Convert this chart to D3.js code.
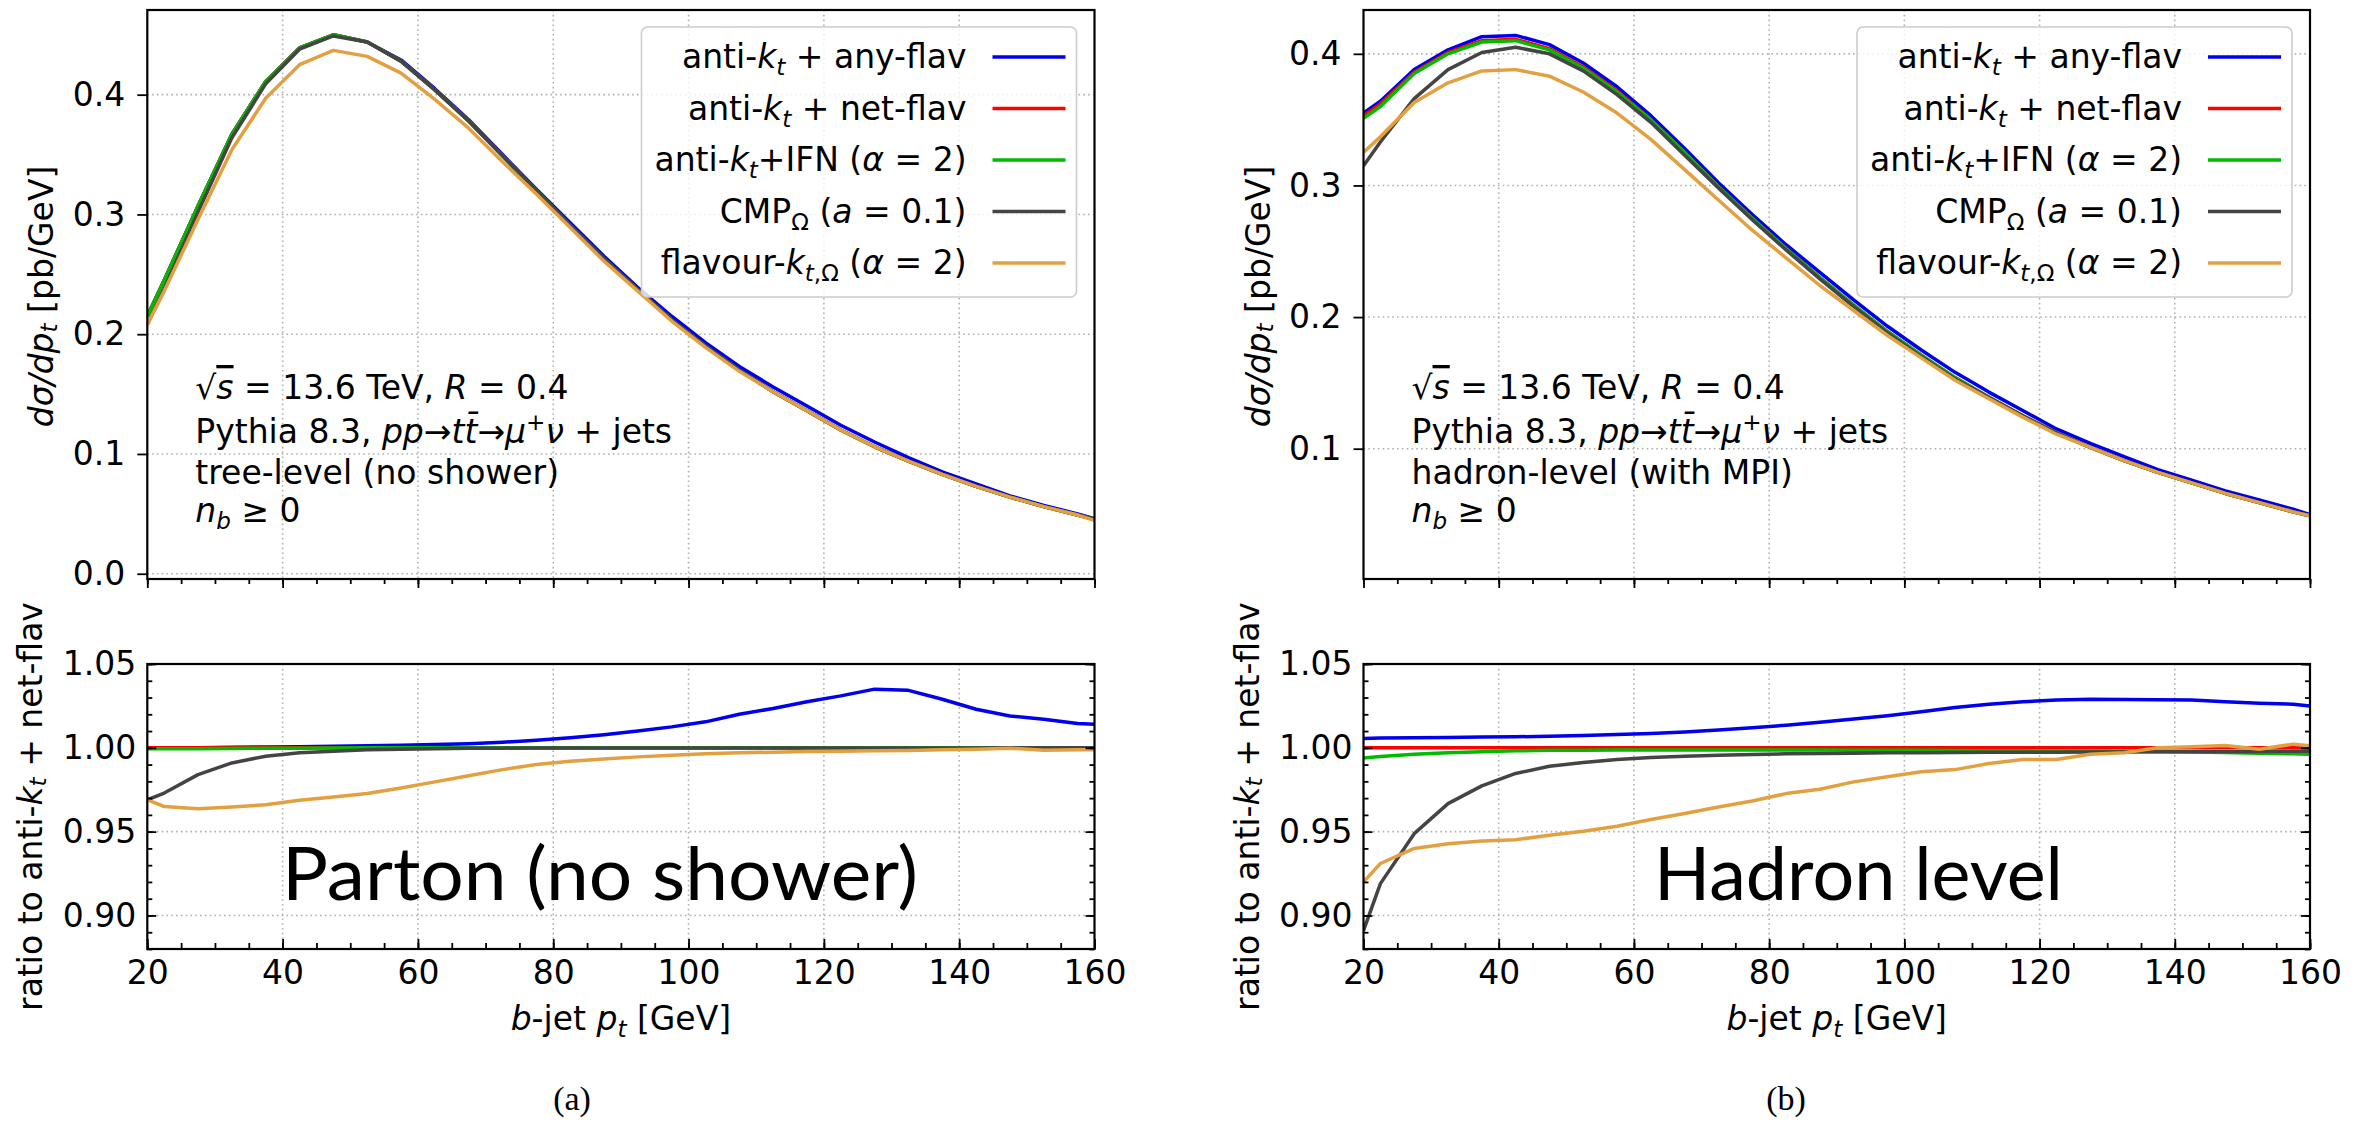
<!DOCTYPE html>
<html lang="en">
<head>
<meta charset="UTF-8">
<title>b-jet pt spectra</title>
<script src="https://d3js.org/d3.v7.min.js"></script>
<style>
  body { margin: 0; background: #fff; }
  svg { display: block; }
</style>
</head>
<body>
<svg width="2369" height="1122"></svg>
<script>
// pt nodes (GeV): axis edges plus 5 GeV bin centres
const ptNodes = [20, 22.5, 27.5, 32.5, 37.5, 42.5, 47.5, 52.5, 57.5, 62.5, 67.5, 72.5, 77.5, 82.5, 87.5,
                 92.5, 97.5, 102.5, 107.5, 112.5, 117.5, 122.5, 127.5, 132.5, 137.5, 142.5, 147.5, 152.5, 157.5, 160];

// ---- (a) parton level, dsigma/dpt [pb/GeV]
const partonAnyFlav = [0.215, 0.245, 0.307, 0.367, 0.411, 0.439, 0.450, 0.444, 0.429, 0.405, 0.379, 0.350, 0.321, 0.293,
                       0.265, 0.239, 0.215, 0.193, 0.173, 0.156, 0.140, 0.124, 0.110, 0.097, 0.085, 0.075, 0.065, 0.057, 0.050, 0.046];
const partonNetFlav = [0.215, 0.245, 0.307, 0.367, 0.411, 0.439, 0.450, 0.444, 0.428, 0.404, 0.378, 0.349, 0.320, 0.291,
                       0.263, 0.237, 0.212, 0.190, 0.170, 0.152, 0.136, 0.120, 0.106, 0.094, 0.083, 0.073, 0.064, 0.056, 0.049, 0.0455];
const partonIFN     = [0.215, 0.245, 0.307, 0.367, 0.411, 0.439, 0.450, 0.444, 0.428, 0.404, 0.378, 0.349, 0.320, 0.291,
                       0.263, 0.237, 0.212, 0.190, 0.170, 0.152, 0.136, 0.120, 0.106, 0.094, 0.083, 0.073, 0.064, 0.056, 0.049, 0.0455];
const partonCMP     = [0.208, 0.238, 0.302, 0.364, 0.409, 0.438, 0.449, 0.444, 0.428, 0.404, 0.378, 0.349, 0.320, 0.291,
                       0.263, 0.237, 0.212, 0.190, 0.170, 0.152, 0.136, 0.120, 0.106, 0.094, 0.083, 0.073, 0.064, 0.056, 0.049, 0.0455];
const partonFlavKt  = [0.208, 0.236, 0.296, 0.354, 0.397, 0.425, 0.437, 0.432, 0.418, 0.396, 0.372, 0.344, 0.317, 0.289,
                       0.261, 0.236, 0.211, 0.189, 0.169, 0.152, 0.136, 0.120, 0.106, 0.094, 0.083, 0.073, 0.064, 0.056, 0.049, 0.0445];

// ratios to anti-kt + net-flav
const partonRatioAny = [1.000, 1.000, 1.000, 1.0003, 1.0005, 1.0007, 1.001, 1.0012, 1.0015, 1.002, 1.0025, 1.0033, 1.0045, 1.006,
                        1.0078, 1.010, 1.0125, 1.0155, 1.020, 1.0235, 1.0275, 1.031, 1.035, 1.0343, 1.029, 1.023, 1.019, 1.017, 1.0145, 1.014];
const partonRatioNet = [1, 1, 1, 1, 1, 1, 1, 1, 1, 1, 1, 1, 1, 1, 1, 1, 1, 1, 1, 1, 1, 1, 1, 1, 1, 1, 1, 1, 1, 1];
const partonRatioIFN = [0.9995, 0.9995, 0.9995, 0.9996, 0.9997, 0.9998, 0.9999, 1, 1, 1, 1, 1, 1, 1, 1, 1, 1, 1, 1, 1,
                        1, 1, 1, 1, 1, 1, 1, 1, 1, 1];
const partonRatioCMP = [0.969, 0.973, 0.984, 0.991, 0.995, 0.997, 0.998, 0.9988, 0.9992, 0.9995, 0.9997, 0.9998, 0.9999, 0.9999,
                        0.9999, 0.9999, 0.9999, 0.9999, 0.9999, 0.9999, 0.9999, 0.9999, 0.9999, 0.9999, 0.9999, 0.9999, 1, 1, 1, 1];
const partonRatioFlavKt = [0.969, 0.965, 0.9637, 0.9647, 0.966, 0.9687, 0.9707, 0.9727, 0.976, 0.9797, 0.9833, 0.987, 0.990, 0.992,
                           0.9934, 0.9946, 0.9956, 0.9964, 0.997, 0.9974, 0.9978, 0.998, 0.9982, 0.9984, 0.9988, 0.9992, 0.9998, 0.9986, 0.9988, 0.9988];

// ---- (b) hadron level, dsigma/dpt [pb/GeV]
const hadronAnyFlav = [0.355, 0.364, 0.388, 0.403, 0.413, 0.414, 0.407, 0.393, 0.375, 0.353, 0.328, 0.302, 0.278, 0.255,
                       0.234, 0.213, 0.193, 0.175, 0.158, 0.143, 0.129, 0.115, 0.104, 0.094, 0.084, 0.076, 0.068, 0.061, 0.054, 0.050];
const hadronNetFlav = [0.353, 0.362, 0.386, 0.401, 0.410, 0.411, 0.404, 0.390, 0.372, 0.350, 0.325, 0.299, 0.275, 0.252,
                       0.230, 0.209, 0.189, 0.171, 0.154, 0.139, 0.125, 0.112, 0.101, 0.091, 0.082, 0.074, 0.066, 0.059, 0.052, 0.049];
const hadronIFN     = [0.351, 0.360, 0.385, 0.400, 0.409, 0.410, 0.403, 0.389, 0.371, 0.350, 0.325, 0.299, 0.275, 0.252,
                       0.230, 0.209, 0.189, 0.171, 0.154, 0.139, 0.125, 0.112, 0.101, 0.091, 0.082, 0.074, 0.066, 0.059, 0.052, 0.049];
const hadronCMP     = [0.315, 0.333, 0.366, 0.388, 0.401, 0.405, 0.400, 0.387, 0.369, 0.348, 0.323, 0.298, 0.274, 0.251,
                       0.229, 0.208, 0.188, 0.170, 0.153, 0.139, 0.125, 0.112, 0.101, 0.091, 0.082, 0.074, 0.066, 0.059, 0.052, 0.049];
const hadronFlavKt  = [0.325, 0.337, 0.363, 0.378, 0.387, 0.388, 0.383, 0.371, 0.355, 0.335, 0.312, 0.289, 0.266, 0.245,
                       0.224, 0.205, 0.186, 0.169, 0.152, 0.138, 0.124, 0.111, 0.101, 0.091, 0.082, 0.074, 0.066, 0.059, 0.052, 0.049];

const hadronRatioAny = [1.0056, 1.0058, 1.006, 1.0062, 1.0064, 1.0066, 1.0069, 1.0073, 1.0079, 1.0086, 1.0095, 1.0106, 1.012, 1.0135,
                        1.0152, 1.0172, 1.0192, 1.0215, 1.024, 1.026, 1.0275, 1.0285, 1.0289, 1.0288, 1.0287, 1.0285, 1.0275, 1.0266, 1.026, 1.025];
const hadronRatioNet = [1, 1, 1, 1, 1, 1, 1, 1, 1, 1, 1, 1, 1, 1, 1, 1, 1, 1, 1, 1, 1, 1, 1, 1, 1, 1, 1, 1, 1, 1];
const hadronRatioIFN = [0.994, 0.9948, 0.9962, 0.997, 0.9977, 0.9982, 0.9985, 0.9986, 0.9987, 0.9987, 0.9987, 0.9987, 0.9987, 0.9987,
                        0.9987, 0.9986, 0.9986, 0.9985, 0.9984, 0.9983, 0.9982, 0.9981, 0.998, 0.9979, 0.9977, 0.9975, 0.9972, 0.9968, 0.9964, 0.9962];
const hadronRatioCMP = [0.891, 0.919, 0.9488, 0.9667, 0.9773, 0.9847, 0.989, 0.9912, 0.993, 0.9942, 0.995, 0.9956, 0.996, 0.9964,
                        0.9966, 0.9968, 0.997, 0.9971, 0.9972, 0.9973, 0.9974, 0.9974, 0.9975, 0.9975, 0.9976, 0.9976, 0.9977, 0.9978, 0.9979, 0.998];
const hadronRatioFlavKt = [0.920, 0.931, 0.940, 0.9428, 0.9444, 0.9452, 0.9478, 0.9502, 0.9532, 0.9572, 0.9608, 0.9647, 0.9683, 0.9727,
                           0.9753, 0.9797, 0.9827, 0.9857, 0.987, 0.9906, 0.993, 0.993, 0.9962, 0.997, 1.000, 1.0006, 1.0014, 0.9992, 1.0022, 1.0012];

const seriesColors = ["#0000ee", "#ff0000", "#00bb00", "#444444", "#e3a040"];
const yTicksA = [0.0, 0.1, 0.2, 0.3, 0.4];
const yTicksB = [0.1, 0.2, 0.3, 0.4];
const ratioTicks = [0.90, 0.95, 1.00, 1.05];
const xTicks = [20, 40, 60, 80, 100, 120, 140, 160];

const F = 33;
const svg = d3.select("svg");

// mathtext-like helper: parts are strings or [text, style]
// style: i italic, b subscript, p superscript, o overline
function rich(sel, parts, size) {
  let cur = 0;
  parts.forEach(p => {
    const [t, s] = typeof p === "string" ? [p, ""] : p;
    const ts = sel.append("tspan").text(t);
    if (s.includes("i")) ts.attr("font-style", "italic");
    if (s.includes("o")) ts.style("text-decoration", "overline");
    let target = 0;
    if (s.includes("b")) { target = 0.22 * size; ts.attr("font-size", size * 0.7); }
    if (s.includes("p")) { target = -0.4 * size; ts.attr("font-size", size * 0.7); }
    if (target !== cur) { ts.attr("dy", target - cur); cur = target; }
  });
  if (cur !== 0) sel.append("tspan").attr("dy", -cur).text("\u200b");
  return sel;
}

const legendLabels = [
  ["anti-", ["k", "i"], ["t", "ib"], " + any-flav"],
  ["anti-", ["k", "i"], ["t", "ib"], " + net-flav"],
  ["anti-", ["k", "i"], ["t", "ib"], "+IFN (", ["\u03b1", "i"], " = 2)"],
  ["CMP", ["\u03a9", "b"], " (", ["a", "i"], " = 0.1)"],
  ["flavour-", ["k", "i"], ["t", "ib"], [",\u03a9", "b"], " (", ["\u03b1", "i"], " = 2)"]
];

function drawPanel(o) {
  const topY0 = 10, topY1 = 579, rY0 = 664, rY1 = 949;
  const x = d3.scaleLinear().domain([20, 160]).range([o.x0, o.x1]);
  const y = d3.scaleLinear().domain(o.yDom).range([topY1, topY0]);
  const yr = d3.scaleLinear().domain([0.88, 1.05]).range([rY1, rY0]);
  const g = svg.append("g").attr("font-family", "DejaVu Sans").attr("font-size", F);

  const clipId = "clip" + o.id;
  const defs = svg.append("defs");
  defs.append("clipPath").attr("id", clipId + "t").append("rect")
    .attr("x", o.x0).attr("y", topY0).attr("width", o.x1 - o.x0).attr("height", topY1 - topY0);
  defs.append("clipPath").attr("id", clipId + "r").append("rect")
    .attr("x", o.x0).attr("y", rY0).attr("width", o.x1 - o.x0).attr("height", rY1 - rY0);

  const gridStyle = s => s.attr("stroke", "#b0b0b0").attr("stroke-width", 1.6).attr("stroke-dasharray", "1.6,3.2");
  const gridX = [40, 60, 80, 100, 120, 140];

  // grids
  [[topY0, topY1, o.yTicks, y], [rY0, rY1, ratioTicks, yr]].forEach(([a, b, ticks, sc]) => {
    g.append("g").selectAll("line").data(gridX).join("line")
      .attr("x1", d => x(d)).attr("x2", d => x(d)).attr("y1", a).attr("y2", b).call(gridStyle);
    g.append("g").selectAll("line").data(ticks).join("line")
      .attr("x1", o.x0).attr("x2", o.x1).attr("y1", d => sc(d)).attr("y2", d => sc(d)).call(gridStyle);
  });

  // curves
  const line = sc => d3.line().x(d => x(d[0])).y(d => sc(d[1]));
  o.top.forEach((vals, i) => {
    g.append("path").datum(ptNodes.map((p, k) => [p, vals[k]]))
      .attr("clip-path", `url(#${clipId}t)`)
      .attr("d", line(y)).attr("fill", "none").attr("stroke", seriesColors[i])
      .attr("stroke-width", 3.5).attr("stroke-linejoin", "round");
  });
  o.ratio.forEach((vals, i) => {
    g.append("path").datum(ptNodes.map((p, k) => [p, vals[k]]))
      .attr("clip-path", `url(#${clipId}r)`)
      .attr("d", line(yr)).attr("fill", "none").attr("stroke", seriesColors[i])
      .attr("stroke-width", 3.5).attr("stroke-linejoin", "round");
  });

  const minorX = d3.range(20, 161, 5);
  const styleAxis = ax => { ax.select(".domain").remove(); ax.selectAll("line").attr("stroke", "#000").attr("stroke-width", 1.8); };

  // top panel axes (ticks outward)
  g.append("g").attr("transform", `translate(0,${topY1})`)
    .call(d3.axisBottom(x).tickValues(minorX).tickSize(5).tickFormat("")).call(styleAxis);
  g.append("g").attr("transform", `translate(0,${topY1})`)
    .call(d3.axisBottom(x).tickValues(xTicks).tickSize(9).tickFormat("")).call(styleAxis);
  const yAx = g.append("g").attr("transform", `translate(${o.x0},0)`)
    .call(d3.axisLeft(y).tickValues(o.yTicks).tickSize(10).tickPadding(12).tickFormat(d3.format(".1f")));
  styleAxis(yAx);
  yAx.selectAll("text").attr("font-size", F).attr("font-family", "DejaVu Sans").attr("fill", "#000");

  // ratio panel axes (ticks inward)
  g.append("g").attr("transform", `translate(0,${rY1})`)
    .call(d3.axisBottom(x).tickValues(minorX).tickSizeInner(-6).tickSizeOuter(0).tickFormat("")).call(styleAxis);
  const xAx = g.append("g").attr("transform", `translate(0,${rY1})`)
    .call(d3.axisBottom(x).tickValues(xTicks).tickSizeInner(-10).tickSizeOuter(0).tickPadding(12).tickFormat(d3.format("d")));
  styleAxis(xAx);
  xAx.selectAll("text").attr("font-size", F).attr("font-family", "DejaVu Sans").attr("fill", "#000");
  const minorR = d3.range(88, 106).map(v => v / 100);
  [[o.x0, d3.axisLeft], [o.x1, d3.axisRight]].forEach(([px, mk]) => {
    g.append("g").attr("transform", `translate(${px},0)`)
      .call(mk(yr).tickValues(minorR).tickSizeInner(-5).tickSizeOuter(0).tickFormat("")).call(styleAxis);
  });
  const rAx = g.append("g").attr("transform", `translate(${o.x0},0)`)
    .call(d3.axisLeft(yr).tickValues(ratioTicks).tickSizeInner(-9).tickSizeOuter(0).tickPadding(11).tickFormat(d3.format(".2f")));
  styleAxis(rAx);
  rAx.selectAll("text").attr("font-size", F).attr("font-family", "DejaVu Sans").attr("fill", "#000");
  g.append("g").attr("transform", `translate(${o.x1},0)`)
    .call(d3.axisRight(yr).tickValues(ratioTicks).tickSizeInner(-9).tickSizeOuter(0).tickFormat("")).call(styleAxis);

  // frames
  [[topY0, topY1], [rY0, rY1]].forEach(([a, b]) => {
    g.append("rect").attr("x", o.x0).attr("y", a).attr("width", o.x1 - o.x0).attr("height", b - a)
      .attr("fill", "none").attr("stroke", "#000").attr("stroke-width", 2.2);
  });

  // legend
  const lx0 = o.x1 - 453, lx1 = o.x1 - 18, ly0 = 27, ly1 = 297;
  g.append("rect").attr("x", lx0).attr("y", ly0).attr("width", lx1 - lx0).attr("height", ly1 - ly0)
    .attr("rx", 6).attr("fill", "#fff").attr("fill-opacity", 0.8).attr("stroke", "#cccccc").attr("stroke-width", 1.6);
  legendLabels.forEach((lab, i) => {
    const cy = 57 + i * 51.5;
    g.append("line").attr("x1", o.x1 - 102).attr("x2", o.x1 - 29).attr("y1", cy).attr("y2", cy)
      .attr("stroke", seriesColors[i]).attr("stroke-width", 3.5);
    rich(g.append("text").attr("x", o.x1 - 128).attr("y", cy + 11).attr("text-anchor", "end"), lab, F);
  });

  // annotation
  const notes = [
    ["\u221a", ["s", "io"], " = 13.6 TeV, ", ["R", "i"], " = 0.4"],
    ["Pythia 8.3, ", ["pp", "i"], "\u2192", ["t\u0074\u0304", "i"], "\u2192", ["\u03bc", "i"], ["+", "p"], ["\u03bd", "i"], " + jets"],
    [o.level],
    [["n", "i"], ["b", "ib"], " \u2265 0"]
  ];
  const bases = [399, 443, 484, 522];
  notes.forEach((n, i) => rich(g.append("text").attr("x", o.x0 + 48).attr("y", bases[i]), n, F));

  // axis labels
  rich(g.append("text").attr("transform", `translate(${o.x0 - 106},${(topY0 + topY1) / 2 + 2}) rotate(-90)`)
    .attr("text-anchor", "middle").attr("dominant-baseline", "central"),
    [["d\u03c3/dp", "i"], ["t", "ib"], " [pb/GeV]"], F);
  rich(g.append("text").attr("transform", `translate(${o.x0 - 117},${(rY0 + rY1) / 2}) rotate(-90)`)
    .attr("text-anchor", "middle").attr("dominant-baseline", "central"),
    ["ratio to anti-", ["k", "i"], ["t", "ib"], " + net-flav"], F);
  rich(g.append("text").attr("x", (o.x0 + o.x1) / 2).attr("y", 1030).attr("text-anchor", "middle"),
    [["b", "i"], "-jet ", ["p", "i"], ["t", "ib"], " [GeV]"], F);

  // big panel label
  svg.append("text").attr("x", o.bigX).attr("y", 900).attr("font-family", "Lato").attr("font-size", 74)
    .attr("textLength", o.bigW).attr("lengthAdjust", "spacingAndGlyphs").text(o.big);

  // sub caption
  svg.append("text").attr("x", o.capX).attr("y", 1110).attr("text-anchor", "middle")
    .attr("font-family", "Liberation Serif").attr("font-size", 34).text(o.cap);
}

drawPanel({
  id: "a", x0: 147.3, x1: 1094.5, yDom: [-0.0044, 0.4707], yTicks: yTicksA,
  top: [partonAnyFlav, partonNetFlav, partonIFN, partonCMP, partonFlavKt],
  ratio: [partonRatioAny, partonRatioNet, partonRatioIFN, partonRatioCMP, partonRatioFlavKt],
  level: "tree-level (no shower)", big: "Parton (no shower)", bigX: 282, bigW: 636, cap: "(a)", capX: 572
});
drawPanel({
  id: "b", x0: 1363.5, x1: 2310, yDom: [0.001, 0.4333], yTicks: yTicksB,
  top: [hadronAnyFlav, hadronNetFlav, hadronIFN, hadronCMP, hadronFlavKt],
  ratio: [hadronRatioAny, hadronRatioNet, hadronRatioIFN, hadronRatioCMP, hadronRatioFlavKt],
  level: "hadron-level (with MPI)", big: "Hadron level", bigX: 1654, bigW: 409, cap: "(b)", capX: 1786
});
</script>
</body>
</html>
